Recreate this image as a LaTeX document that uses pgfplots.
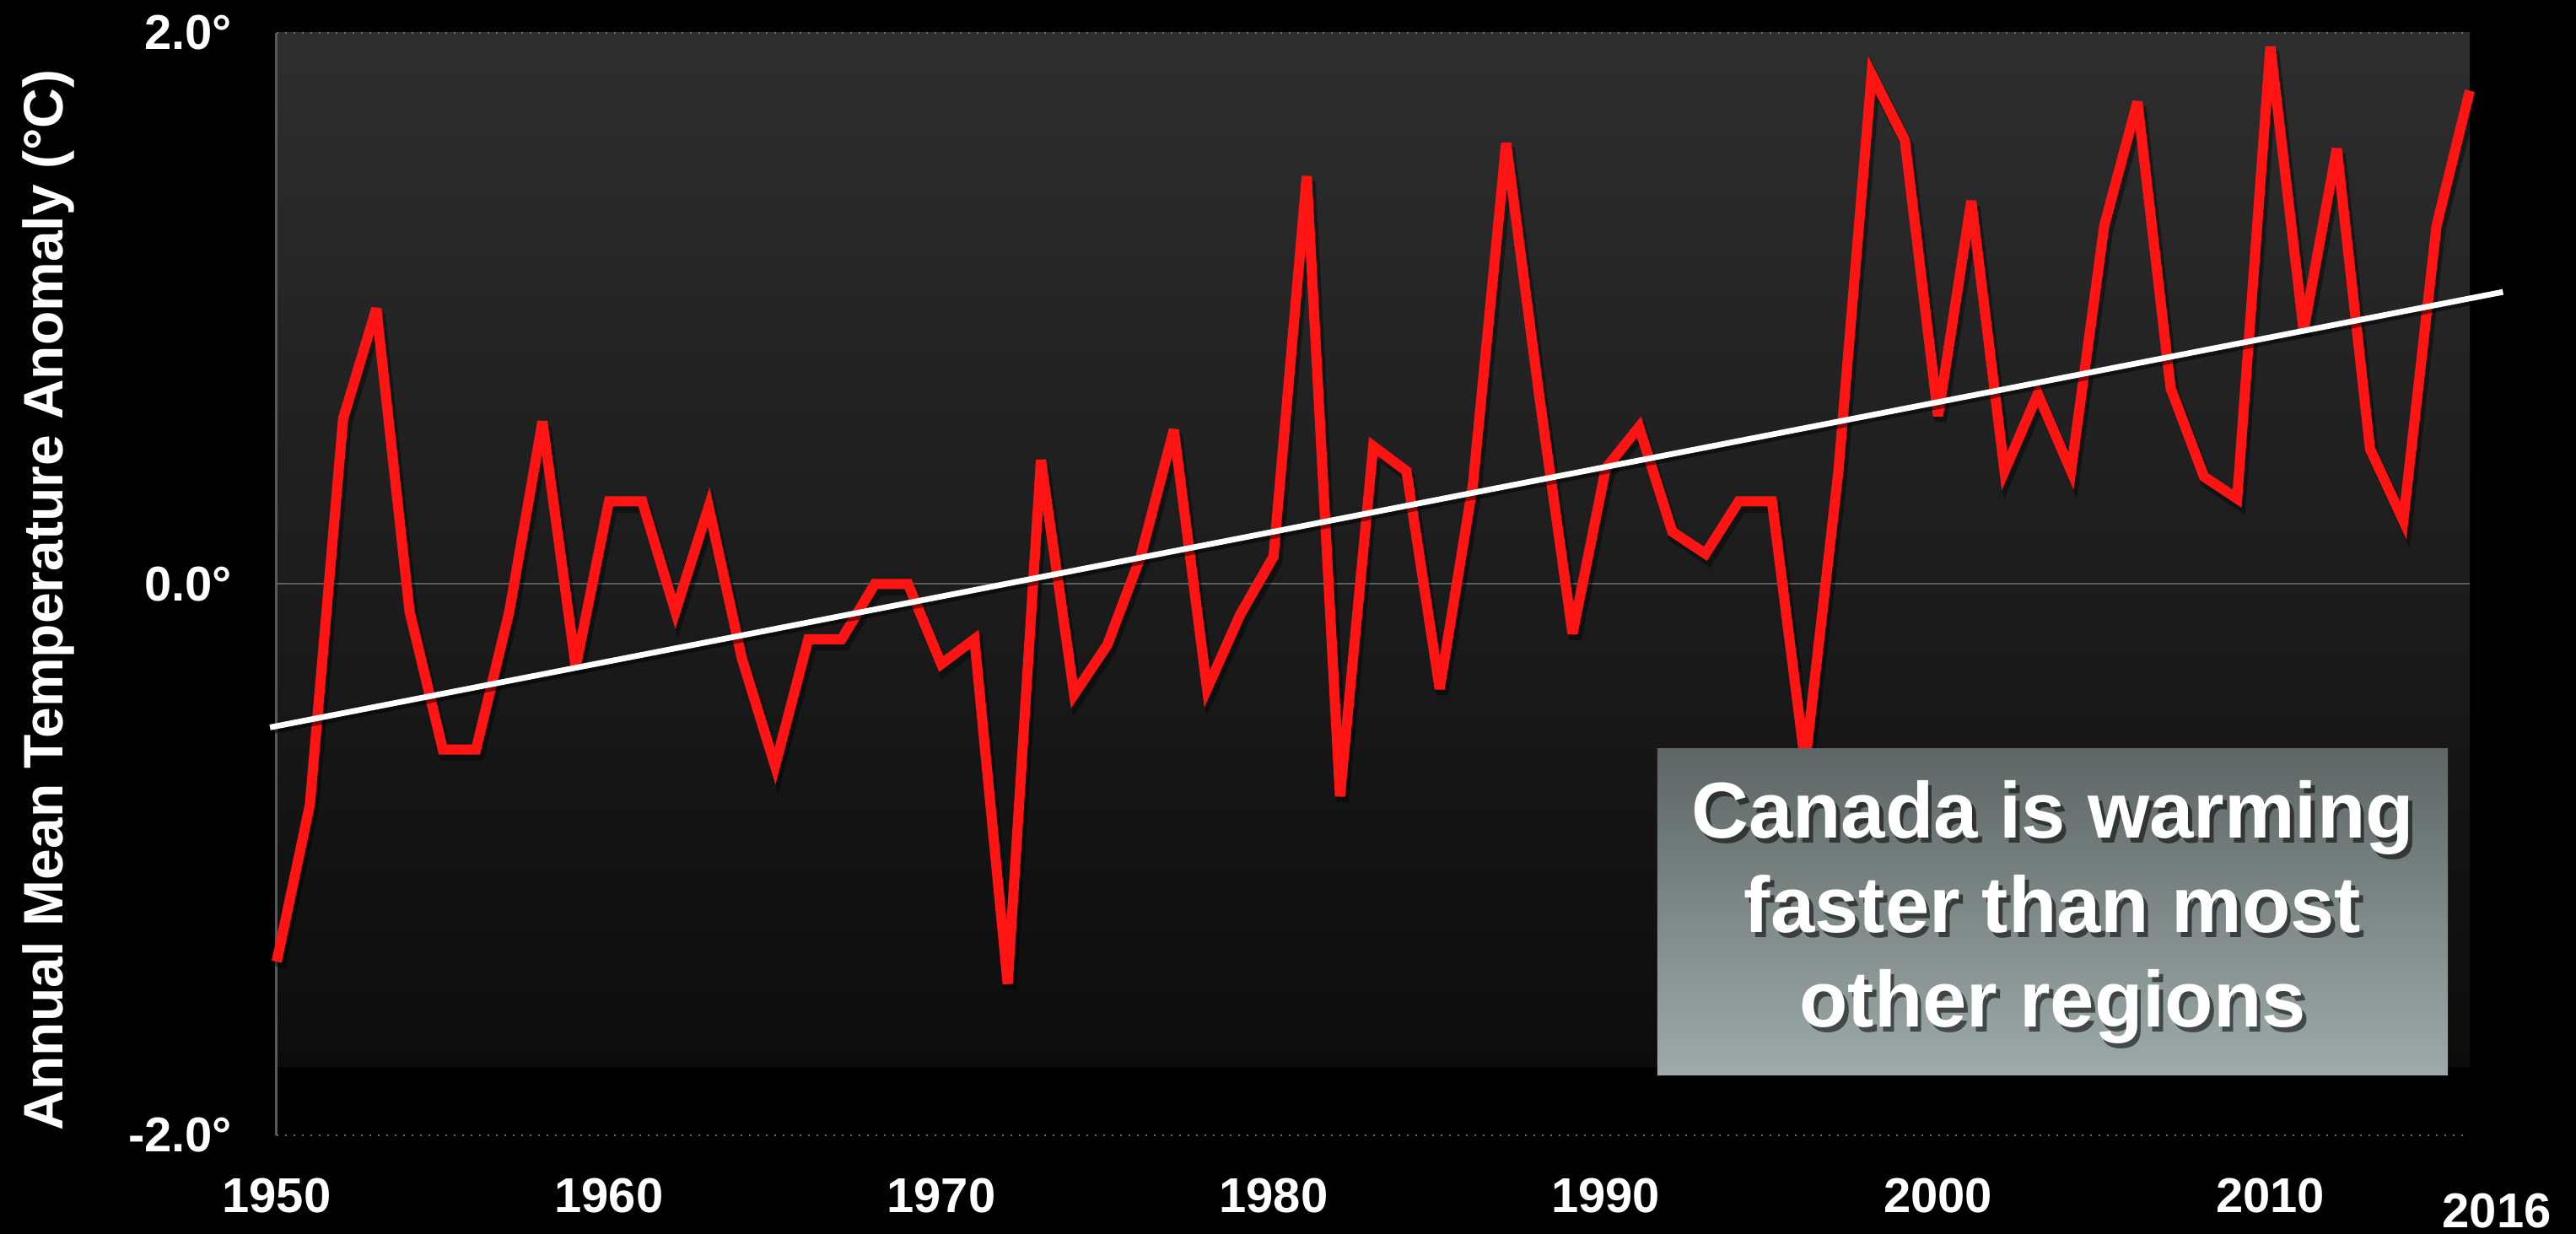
\documentclass[border=0pt]{standalone}
\usepackage{fontspec}
\setmainfont{Liberation Sans}
\usepackage{pgfplots}
\pgfplotsset{compat=1.18}
\usepackage{pgfplotstable}
\usetikzlibrary{shadings}
\definecolor{redline}{RGB}{255,20,20}
\definecolor{bgtop}{RGB}{46,46,46}
\definecolor{bgbot}{RGB}{12,12,12}
\definecolor{gridgray}{RGB}{90,98,96}
\definecolor{axisgray}{RGB}{85,90,92}
\definecolor{dotgray}{RGB}{110,110,110}
\definecolor{boxtop}{RGB}{93,102,100}
\definecolor{boxbot}{RGB}{158,170,170}

\pgfplotstableread{
year anom
1950 -1.37
1951 -0.80
1952 0.60
1953 1.00
1954 -0.10
1955 -0.60
1956 -0.60
1957 -0.10
1958 0.59
1959 -0.30
1960 0.30
1961 0.30
1962 -0.10
1963 0.28
1964 -0.27
1965 -0.66
1966 -0.20
1967 -0.20
1968 0.00
1969 0.00
1970 -0.29
1971 -0.20
1972 -1.45
1973 0.45
1974 -0.40
1975 -0.22
1976 0.10
1977 0.56
1978 -0.38
1979 -0.11
1980 0.10
1981 1.48
1982 -0.77
1983 0.50
1984 0.41
1985 -0.38
1986 0.36
1987 1.60
1988 0.68
1989 -0.18
1990 0.42
1991 0.57
1992 0.19
1993 0.11
1994 0.30
1995 0.30
1996 -0.65
1997 0.41
1998 1.85
1999 1.61
2000 0.61
2001 1.39
2002 0.41
2003 0.69
2004 0.41
2005 1.30
2006 1.75
2007 0.71
2008 0.39
2009 0.31
2010 1.95
2011 0.92
2012 1.58
2013 0.49
2014 0.23
2015 1.30
2016 1.79
}\datatable

\pgfplotstableread{
year trend
1949.8 -0.52
2017.0 1.06
}\trendtable

\begin{document}
\begin{tikzpicture}
\fill[black] (-82pt,-29.25pt) rectangle (681.5pt,336.5pt);
\path[use as bounding box] (-82pt,-29.25pt) rectangle (681.5pt,336.5pt);
\begin{axis}[
  at={(0,0)}, anchor=south west,
  scale only axis, width=650pt, height=326.75pt,
  xmin=1950, xmax=2016, ymin=-2, ymax=2,
  axis line style={draw=none},
  clip=false, no marks,
  xtick={1950,1960,1970,1980,1990,2000,2010},
  xticklabels={1950,1960,1970,1980,1990,2000,2010},
  extra x ticks={2016}, extra x tick labels={2016},
  extra x tick style={xticklabel style={xshift=8pt,yshift=-4.5pt}},
  ytick={-2,0,2}, yticklabels={-2.0°,0.0°,2.0°},
  major tick length=0pt,
  tick style={draw=none},
  xticklabel style={anchor=north, inner sep=0pt, yshift=-12.5pt, font=\fontsize{14.5}{17}\selectfont\bfseries, text=white},
  yticklabel style={anchor=east, inner sep=0pt, xshift=-13pt, font=\fontsize{14.5}{17}\selectfont\bfseries, text=white},
  ylabel={Annual Mean Temperature Anomaly (°C)},
  every axis y label/.style={at={(axis description cs:-0.10423,0.4855)}, rotate=90, anchor=center, font=\fontsize{16.5}{20}\selectfont\bfseries, text=white},
]
\fill[top color=bgtop, bottom color=bgbot] (axis cs:1950,-1.75) rectangle (axis cs:2016,2);
\draw[dotgray, dotted, line width=0.5pt] (axis cs:1950,2) -- (axis cs:2016,2);
\draw[dotgray, dotted, line width=0.5pt] (axis cs:1950,-2) -- (axis cs:2016,-2);
\draw[axisgray, line width=0.75pt] (axis cs:1950,-2) -- (axis cs:1950,2);
\draw[gridgray, line width=0.5pt] (axis cs:1950,0) -- (axis cs:2016,0);

\addplot[black, opacity=0.4, line width=3.6pt, line join=miter, miter limit=4,
  transform canvas={xshift=0.8pt,yshift=-1.6pt}] table[x=year,y=anom] {\datatable};
\addplot[redline, line width=3pt, line join=miter, miter limit=4] table[x=year,y=anom] {\datatable};

\addplot[black, opacity=0.5, line width=1.8pt, transform canvas={yshift=-1.2pt}] table[x=year,y=trend] {\trendtable};
\addplot[white, line width=1.7pt] table[x=year,y=trend] {\trendtable};

\fill[top color=boxtop, bottom color=boxbot] (axis cs:1991.55,-0.597) rectangle (axis cs:2015.34,-1.781);
\node[align=center, text=black, opacity=0.55, font=\fontsize{23.5}{28}\selectfont\bfseries, xshift=1.2pt, yshift=-1.4pt]
  at (axis cs:2003.45,-1.19) {Canada is warming\\faster than most\\other regions};
\node[align=center, text=white, font=\fontsize{23.5}{28}\selectfont\bfseries]
  at (axis cs:2003.45,-1.19) {Canada is warming\\faster than most\\other regions};
\end{axis}
\end{tikzpicture}
\end{document}
